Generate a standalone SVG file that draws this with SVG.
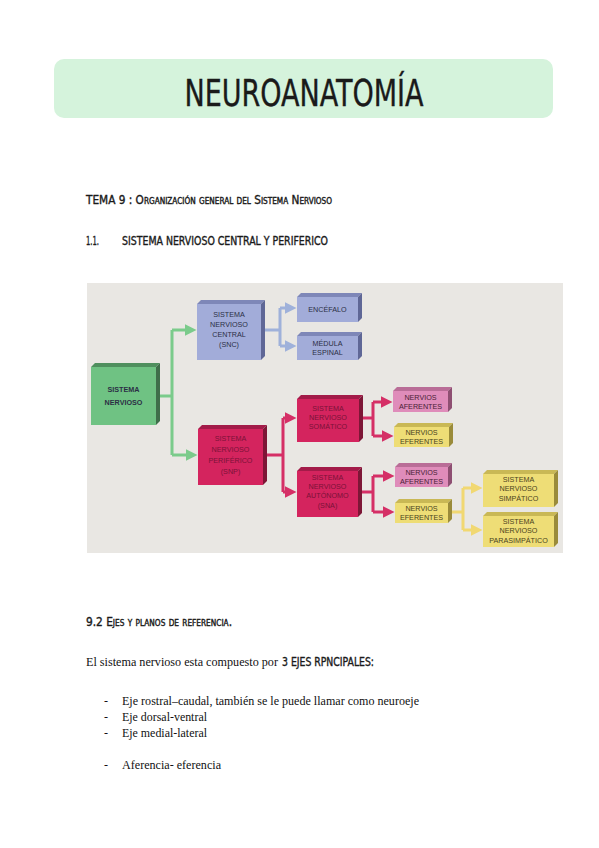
<svg xmlns="http://www.w3.org/2000/svg" width="599" height="848" viewBox="0 0 599 848">
<style>
.hand{font-family:"DejaVu Sans Condensed","DejaVu Sans",sans-serif;fill:#1a1a1a;stroke:#1a1a1a;stroke-width:0.35}
.ser{font-family:"Liberation Serif",serif;fill:#111}
.bt{font-family:"Liberation Sans",Arial,sans-serif;font-size:7.2px;text-anchor:middle}
.g .f{fill:#6fc283}.g .s{fill:#3f6e4a}.g .t{fill:#4f8f5e}
.b .f{fill:#a2acd9}.b .s{fill:#5f6796}.b .t{fill:#7e87b8}
.m .f{fill:#d4245e}.m .s{fill:#7d1636}.m .t{fill:#a31b49}
.p .f{fill:#df8cba}.p .s{fill:#8e4f72}.p .t{fill:#b96d97}
.y .f{fill:#eedd76}.y .s{fill:#9a8b3a}.y .t{fill:#c9b855}
.g text,.b text{fill:#2b2f45}
.m text{fill:#7a1238}
.p text{fill:#4a1d36}
.y text{fill:#4a4320}
.cg{stroke:#7bcb8b;stroke-width:3;fill:none}
.cb{stroke:#9fb1da;stroke-width:3;fill:none}
.cm{stroke:#d52f66;stroke-width:3;fill:none}
.cy{stroke:#f1d872;stroke-width:3;fill:none}
</style>
<defs>
<marker id="ag" markerWidth="4" markerHeight="4" refX="2.5" refY="2" orient="auto" markerUnits="strokeWidth"><path d="M0,0 L4,2 L0,4 z" fill="#7bcb8b"/></marker>
<marker id="ab" markerWidth="4" markerHeight="4" refX="2.5" refY="2" orient="auto" markerUnits="strokeWidth"><path d="M0,0 L4,2 L0,4 z" fill="#9fb1da"/></marker>
<marker id="am" markerWidth="4" markerHeight="4" refX="2.5" refY="2" orient="auto" markerUnits="strokeWidth"><path d="M0,0 L4,2 L0,4 z" fill="#d52f66"/></marker>
<marker id="ay" markerWidth="4" markerHeight="4" refX="2.5" refY="2" orient="auto" markerUnits="strokeWidth"><path d="M0,0 L4,2 L0,4 z" fill="#f1d872"/></marker>
</defs>
<rect width="599" height="848" fill="#ffffff"/>
<g id="title">
<rect x="54" y="59" width="499" height="59" rx="10" fill="#d5f3dc"/>
<text class="hand" x="304" y="106" font-size="38" stroke-width="1.3" text-anchor="middle" textLength="239" lengthAdjust="spacingAndGlyphs">NEUROANATOMÍA</text>
</g>
<text class="hand" x="86" y="204" font-size="11.5" textLength="246" lengthAdjust="spacingAndGlyphs">TEMA 9 : <tspan font-variant="small-caps">Organización general del Sistema Nervioso</tspan></text>
<text class="hand" x="86" y="245" font-size="11.5" textLength="13" lengthAdjust="spacingAndGlyphs">1.1.</text>
<text class="hand" x="122" y="245" font-size="11.5" textLength="206" lengthAdjust="spacingAndGlyphs">SISTEMA NERVIOSO CENTRAL Y  PERIFERICO</text>
<rect id="photo" x="87" y="283" width="476" height="270" fill="#e9e7e3"/>
<g id="connectors">
<path class="cg" d="M157,396 H172 M172,330 V455 M172,330 H192" marker-end="url(#ag)"/>
<path class="cg" d="M172,455 H193" marker-end="url(#ag)"/>
<path class="cb" d="M261,330 H280 M280,308 V346 M280,308 H292" marker-end="url(#ab)"/>
<path class="cb" d="M280,346 H292" marker-end="url(#ab)"/>
<path class="cm" d="M263,455 H283 M283,418 V492 M283,418 H292" marker-end="url(#am)"/>
<path class="cm" d="M283,492 H292" marker-end="url(#am)"/>
<path class="cm" d="M359,418 H373 M373,402 V436 M373,402 H388" marker-end="url(#am)"/>
<path class="cm" d="M373,436 H389" marker-end="url(#am)"/>
<path class="cm" d="M358,492 H373 M373,476 V512 M373,476 H390" marker-end="url(#am)"/>
<path class="cm" d="M373,512 H390" marker-end="url(#am)"/>
<path class="cy" d="M448,512 H463 M463,488 V530 M463,488 H478" marker-end="url(#ay)"/>
<path class="cy" d="M463,530 H478" marker-end="url(#ay)"/>
</g>
<g id="sn" class="g" transform="translate(91,367)">
<polygon class="t" points="0,0 4,-4 69,-4 65,0"/><polygon class="s" points="65,0 69,-4 69,54 65,58"/>
<rect class="f" width="65" height="58"/>
<text class="bt" x="32.5" y="25" font-weight="bold" font-size="8">SISTEMA</text>
<text class="bt" x="32.5" y="38" font-weight="bold" font-size="8">NERVIOSO</text>
</g>
<g id="snc" class="b" transform="translate(197,304)">
<polygon class="t" points="0,0 4,-4 68,-4 64,0"/><polygon class="s" points="64,0 68,-4 68,52 64,56"/>
<rect class="f" width="64" height="56"/>
<text class="bt" x="32" y="13">SISTEMA</text><text class="bt" x="32" y="23">NERVIOSO</text><text class="bt" x="32" y="33">CENTRAL</text><text class="bt" x="32" y="43">(SNC)</text>
</g>
<g id="encefalo" class="b" transform="translate(297,297)">
<polygon class="t" points="0,0 4,-4 65,-4 61,0"/><polygon class="s" points="61,0 65,-4 65,21 61,25"/>
<rect class="f" width="61" height="25"/>
<text class="bt" x="30.5" y="15">ENCÉFALO</text>
</g>
<g id="medula" class="b" transform="translate(297,336)">
<polygon class="t" points="0,0 4,-4 65,-4 61,0"/><polygon class="s" points="61,0 65,-4 65,20 61,24"/>
<rect class="f" width="61" height="24"/>
<text class="bt" x="30.5" y="10">MÉDULA</text><text class="bt" x="30.5" y="19">ESPINAL</text>
</g>
<g id="snp" class="m" transform="translate(198,429)">
<polygon class="t" points="0,0 4,-4 69,-4 65,0"/><polygon class="s" points="65,0 69,-4 69,52 65,56"/>
<rect class="f" width="65" height="56"/>
<text class="bt" x="32.5" y="12">SISTEMA</text><text class="bt" x="32.5" y="23">NERVIOSO</text><text class="bt" x="32.5" y="34">PERIFÉRICO</text><text class="bt" x="32.5" y="45">(SNP)</text>
</g>
<g id="sns" class="m" transform="translate(297,399)">
<polygon class="t" points="0,0 4,-4 66,-4 62,0"/><polygon class="s" points="62,0 66,-4 66,39 62,43"/>
<rect class="f" width="62" height="43"/>
<text class="bt" x="31" y="12">SISTEMA</text><text class="bt" x="31" y="21">NERVIOSO</text><text class="bt" x="31" y="30">SOMÁTICO</text>
</g>
<g id="af1" class="p" transform="translate(393,391)">
<polygon class="t" points="0,0 4,-4 59,-4 55,0"/><polygon class="s" points="55,0 59,-4 59,17 55,21"/>
<rect class="f" width="55" height="21"/>
<text class="bt" x="27.5" y="9">NERVIOS</text><text class="bt" x="27.5" y="18">AFERENTES</text>
</g>
<g id="ef1" class="y" transform="translate(394,427)">
<polygon class="t" points="0,0 4,-4 59,-4 55,0"/><polygon class="s" points="55,0 59,-4 59,16 55,20"/>
<rect class="f" width="55" height="20"/>
<text class="bt" x="27.5" y="8">NERVIOS</text><text class="bt" x="27.5" y="17">EFERENTES</text>
</g>
<g id="sna" class="m" transform="translate(297,471)">
<polygon class="t" points="0,0 4,-4 65,-4 61,0"/><polygon class="s" points="61,0 65,-4 65,42 61,46"/>
<rect class="f" width="61" height="46"/>
<text class="bt" x="30.5" y="9">SISTEMA</text><text class="bt" x="30.5" y="18">NERVIOSO</text><text class="bt" x="30.5" y="27">AUTÓNOMO</text><text class="bt" x="30.5" y="37">(SNA)</text>
</g>
<g id="af2" class="p" transform="translate(395,467)">
<polygon class="t" points="0,0 4,-4 57,-4 53,0"/><polygon class="s" points="53,0 57,-4 57,16 53,20"/>
<rect class="f" width="53" height="20"/>
<text class="bt" x="26.5" y="8">NERVIOS</text><text class="bt" x="26.5" y="17">AFERENTES</text>
</g>
<g id="ef2" class="y" transform="translate(395,503)">
<polygon class="t" points="0,0 4,-4 57,-4 53,0"/><polygon class="s" points="53,0 57,-4 57,16 53,20"/>
<rect class="f" width="53" height="20"/>
<text class="bt" x="26.5" y="8">NERVIOS</text><text class="bt" x="26.5" y="17">EFERENTES</text>
</g>
<g id="simpatico" class="y" transform="translate(483,474)">
<polygon class="t" points="0,0 4,-4 75,-4 71,0"/><polygon class="s" points="71,0 75,-4 75,29 71,33"/>
<rect class="f" width="71" height="33"/>
<text class="bt" x="35.5" y="8">SISTEMA</text><text class="bt" x="35.5" y="17">NERVIOSO</text><text class="bt" x="35.5" y="27">SIMPÁTICO</text>
</g>
<g id="parasimpatico" class="y" transform="translate(483,516)">
<polygon class="t" points="0,0 4,-4 75,-4 71,0"/><polygon class="s" points="71,0 75,-4 75,27 71,31"/>
<rect class="f" width="71" height="31"/>
<text class="bt" x="35.5" y="8">SISTEMA</text><text class="bt" x="35.5" y="17">NERVIOSO</text><text class="bt" x="35.5" y="27">PARASIMPÁTICO</text>
</g>
<text class="hand" x="86" y="626" font-size="11.5" font-variant="small-caps" textLength="146" lengthAdjust="spacingAndGlyphs">9.2 Ejes y planos de referencia.</text>
<text class="ser" x="86" y="666" font-size="13" textLength="192" lengthAdjust="spacingAndGlyphs">El sistema nervioso esta compuesto por</text>
<text class="hand" x="282" y="666" font-size="11.5" textLength="92" lengthAdjust="spacingAndGlyphs">3 EJES RPNCIPALES:</text>
<g class="ser" font-size="12">
<text x="104" y="705">-</text><text x="122" y="705" textLength="297" lengthAdjust="spacingAndGlyphs">Eje rostral–caudal, también se le puede llamar como neuroeje</text>
<text x="104" y="721">-</text><text x="122" y="721" textLength="85" lengthAdjust="spacingAndGlyphs">Eje dorsal-ventral</text>
<text x="104" y="737">-</text><text x="122" y="737" textLength="85" lengthAdjust="spacingAndGlyphs">Eje medial-lateral</text>
<text x="104" y="769">-</text><text x="122" y="769" textLength="99" lengthAdjust="spacingAndGlyphs">Aferencia- eferencia</text>
</g>
</svg>
